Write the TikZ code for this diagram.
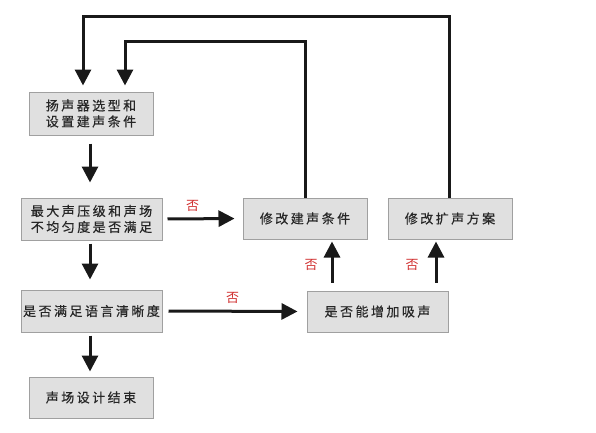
\documentclass[tikz,border=0pt]{standalone}
\usepackage{fontspec}
\newfontfamily\cjk[LetterSpace=19,FakeBold=0.5]{Noto Sans CJK SC}
\newfontfamily\cjklab{Noto Sans CJK SC}
\usetikzlibrary{arrows.meta}
\definecolor{boxfill}{HTML}{E0E0E0}
\definecolor{boxline}{HTML}{A0A0A0}
\definecolor{nored}{HTML}{D03030}
\tikzset{
  box/.style={draw=boxline, fill=boxfill, line width=1pt, inner sep=0pt, align=center,
    font=\cjk\fontsize{13}{16}\selectfont, text=black!85},
  arr/.style={line width=3pt, draw=black!90, -{Triangle[width=16pt,length=16pt]}},
  lab/.style={text=nored, font=\cjklab\fontsize{13}{14}\selectfont, inner sep=0pt}
}
\begin{document}
\begin{tikzpicture}[x=1pt,y=-1pt]
\useasboundingbox (0,0) rectangle (596,432);
\node[box, minimum width=124pt, minimum height=43pt] (b1) at (91,113.5) {扬声器选型和\\设置建声条件};
\node[box, minimum width=141pt, minimum height=42pt] (b2) at (91.5,219) {最大声压级和声场\\不均匀度是否满足};
\node[box, minimum width=141pt, minimum height=42pt] (b3) at (91.5,311) {是否满足语言清晰度};
\node[box, minimum width=124pt, minimum height=41pt] (b4) at (91,397.5) {声场设计结束};
\node[box, minimum width=124pt, minimum height=41pt] (m1) at (305,218.5) {修改建声条件};
\node[box, minimum width=124pt, minimum height=41pt] (m2) at (450,218.5) {修改扩声方案};
\node[box, minimum width=141pt, minimum height=41pt] (xs) at (377.5,311.5) {是否能增加吸声};

\coordinate (t1) at (83,16);
\coordinate (t2) at (125,41);
\coordinate (t1r) at (449,16);
\coordinate (t2r) at (305,41);

\draw[arr, shorten <=8pt, shorten >=15pt] (b1.south -| 90,0) -- (b2.north -| 90,0);
\draw[arr, shorten <=3pt, shorten >=10pt] (b2.south -| 90,0) -- (b3.north -| 90,0);
\draw[arr, shorten <=3pt, shorten >=5pt] (b3.south -| 90,0) -- (b4.north -| 90,0);

\draw[arr, shorten <=5pt, shorten >=8pt] (b2.east) -- (m1.west) node[lab, midway, above=6pt, xshift=-10pt] {否};
\draw[arr, shorten <=6pt, shorten >=9pt] (b3.east) -- (xs.west) node[lab, midway, above=6pt, xshift=-2pt] {否};

\draw[arr, shorten <=8pt, shorten >=2pt] (xs.north -| 332,0) -- (m1.south -| 332,0) node[lab, midway, left=13pt] {否};
\draw[arr, shorten <=8pt, shorten >=2pt] (xs.north -| 436,0) -- (m2.south -| 436,0) node[lab, midway, left=16pt] {否};

\draw[arr, shorten >=6pt] (m2.north -| t1r) -- (t1r) -- (t1) -- (t1 |- b1.north);
\draw[arr, shorten >=6pt] (m1.north) -- (t2r) -- (t2) -- (t2 |- b1.north);
\end{tikzpicture}
\end{document}
